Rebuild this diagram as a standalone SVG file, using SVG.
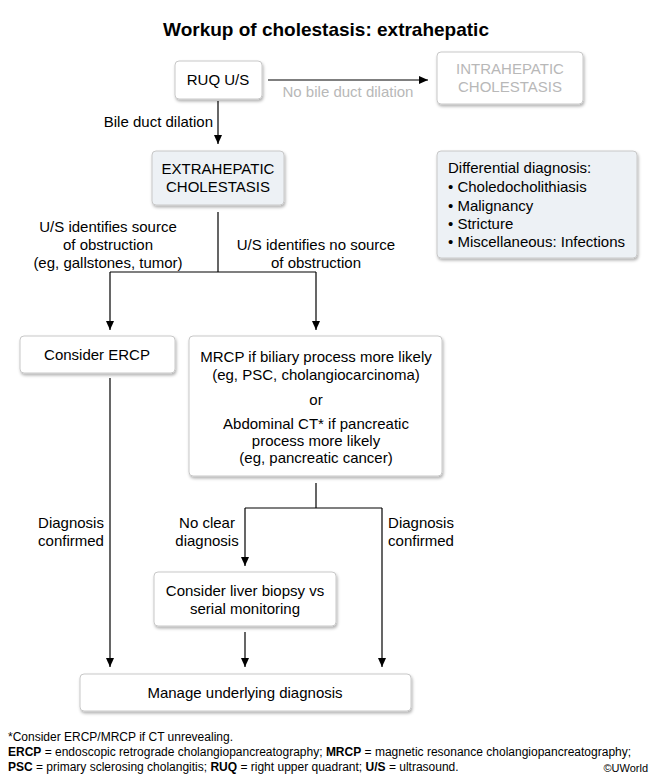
<svg xmlns="http://www.w3.org/2000/svg" width="652" height="777" viewBox="0 0 652 777">
<defs>
<filter id="sh" x="-10%" y="-10%" width="130%" height="140%"><feDropShadow dx="1" dy="2" stdDeviation="1.5" flood-color="#000" flood-opacity="0.3"/></filter>
<marker id="ar" markerWidth="10" markerHeight="10" refX="9" refY="5" orient="auto" markerUnits="userSpaceOnUse"><path d="M0,1 L9,5 L0,9 Z" fill="#000"/></marker>
</defs>
<style>
text{font-family:"Liberation Sans",Arial,sans-serif;font-size:15px;fill:#000}
.c{text-anchor:middle}
.g{fill:#b8b8b8}
.box{fill:#fff;stroke:#c8c8c8;stroke-width:1;filter:url(#sh)}
.blue{fill:#edf1f5}
.ln{stroke:#000;stroke-width:1.2;fill:none}
.f{font-size:12px}
</style>
<rect width="652" height="777" fill="#fff"/>
<text x="326" y="36" class="c" style="font-size:19px;font-weight:bold">Workup of cholestasis: extrahepatic</text>
<g id="connectors">
<line class="ln" x1="268" y1="80" x2="428" y2="80" marker-end="url(#ar)"/>
<line class="ln" x1="218" y1="101" x2="218" y2="144" marker-end="url(#ar)"/>
<path class="ln" d="M218,212 V272 M110,272 H316"/>
<line class="ln" x1="110" y1="272" x2="110" y2="330" marker-end="url(#ar)"/>
<line class="ln" x1="316" y1="272" x2="316" y2="330" marker-end="url(#ar)"/>
<line class="ln" x1="110" y1="378" x2="110" y2="667" marker-end="url(#ar)"/>
<path class="ln" d="M316,483 V508 M245,508 H382"/>
<line class="ln" x1="245" y1="508" x2="245" y2="566" marker-end="url(#ar)"/>
<line class="ln" x1="382" y1="508" x2="382" y2="667" marker-end="url(#ar)"/>
<line class="ln" x1="245" y1="632" x2="245" y2="667" marker-end="url(#ar)"/>
<text x="348" y="97" class="c g">No bile duct dilation</text>
<text x="213" y="127" text-anchor="end">Bile duct dilation</text>
<text x="108" y="232" class="c">U/S identifies source</text>
<text x="108" y="250" class="c">of obstruction</text>
<text x="108" y="268" class="c">(eg, gallstones, tumor)</text>
<text x="316" y="250" class="c">U/S identifies no source</text>
<text x="316" y="268" class="c">of obstruction</text>
<text x="71" y="528" class="c">Diagnosis</text>
<text x="71" y="546" class="c">confirmed</text>
<text x="207" y="528" class="c">No clear</text>
<text x="207" y="546" class="c">diagnosis</text>
<text x="421" y="528" class="c">Diagnosis</text>
<text x="421" y="546" class="c">confirmed</text>
</g>
<g id="ruq"><rect class="box" x="175" y="61" width="87" height="38" rx="4"/><text x="218" y="85" class="c">RUQ U/S</text></g>
<g id="intra"><rect class="box" x="437" y="52" width="146" height="52" rx="4"/><text x="510" y="74" class="c g">INTRAHEPATIC</text><text x="510" y="92" class="c g">CHOLESTASIS</text></g>
<g id="extra"><rect class="box blue" x="152" y="151" width="132" height="54" rx="4"/><text x="218" y="174" class="c">EXTRAHEPATIC</text><text x="218" y="192" class="c">CHOLESTASIS</text></g>
<g id="ddx"><rect class="box blue" x="437" y="151" width="200" height="107" rx="4"/>
<text x="448" y="173">Differential diagnosis:</text>
<text x="448" y="192">•  Choledocholithiasis</text>
<text x="448" y="211">•  Malignancy</text>
<text x="448" y="229">•  Stricture</text>
<text x="448" y="247">•  Miscellaneous: Infections</text></g>
<g id="ercp"><rect class="box" x="20" y="336" width="155" height="37" rx="4"/><text x="97" y="360" class="c">Consider ERCP</text></g>
<g id="mrcp"><rect class="box" x="189" y="336" width="253" height="140" rx="4"/>
<text x="316" y="362" class="c">MRCP if biliary process more likely</text>
<text x="316" y="380" class="c">(eg, PSC, cholangiocarcinoma)</text>
<text x="316" y="405" class="c">or</text>
<text x="316" y="429" class="c">Abdominal CT* if pancreatic</text>
<text x="316" y="446" class="c">process more likely</text>
<text x="316" y="463" class="c">(eg, pancreatic cancer)</text></g>
<g id="biopsy"><rect class="box" x="154" y="572" width="182" height="54" rx="4"/><text x="245" y="596" class="c">Consider liver biopsy vs</text><text x="245" y="614" class="c">serial monitoring</text></g>
<g id="manage"><rect class="box" x="80" y="674" width="331" height="37" rx="4"/><text x="245" y="698" class="c">Manage underlying diagnosis</text></g>
<g id="footer">
<text x="8" y="741" class="f">*Consider ERCP/MRCP if CT unrevealing.</text>
<text x="8" y="756" class="f"><tspan font-weight="bold">ERCP</tspan> = endoscopic retrograde cholangiopancreatography; <tspan font-weight="bold">MRCP</tspan> = magnetic resonance cholangiopancreatography;</text>
<text x="8" y="771" class="f"><tspan font-weight="bold">PSC</tspan> = primary sclerosing cholangitis; <tspan font-weight="bold">RUQ</tspan> = right upper quadrant; <tspan font-weight="bold">U/S</tspan> = ultrasound.</text>
<text x="648" y="772" class="f" text-anchor="end" style="font-size:11px">©UWorld</text>
</g>
</svg>
